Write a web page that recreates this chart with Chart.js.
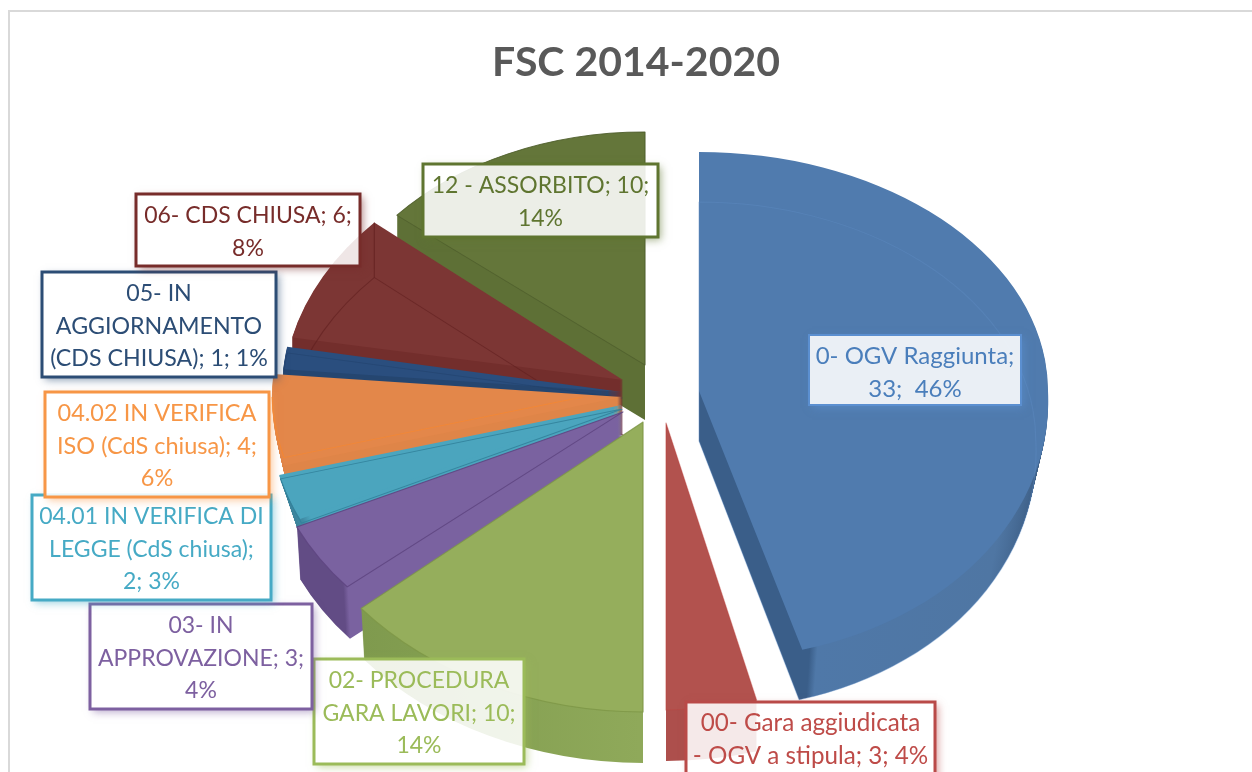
<!DOCTYPE html>
<html>
<head>
<meta charset="utf-8">
<style>html,body{margin:0;padding:0;background:#fff;overflow:hidden}canvas{display:block}</style>
<script src="https://cdn.jsdelivr.net/npm/chart.js@4/dist/chart.umd.min.js"></script>
</head>
<body>
<canvas id="c" width="1252" height="772"></canvas>
<script>
const chartTitle = 'FSC 2014-2020';
const categories = ['0- OGV Raggiunta','00- Gara aggiudicata - OGV a stipula','02- PROCEDURA GARA LAVORI','03- IN APPROVAZIONE','04.01 IN VERIFICA DI LEGGE (CdS chiusa)','04.02 IN VERIFICA ISO (CdS chiusa)','05- IN AGGIORNAMENTO (CDS CHIUSA)','06- CDS CHIUSA','12 - ASSORBITO'];
const values = [33,3,10,3,2,4,1,6,10];
const labelLines = [
  ['0- OGV Raggiunta;','33;  46%'],
  ['00- Gara aggiudicata','- OGV a stipula; 3; 4%'],
  ['02- PROCEDURA','GARA LAVORI; 10;','14%'],
  ['03- IN','APPROVAZIONE; 3;','4%'],
  ['04.01 IN VERIFICA DI','LEGGE (CdS chiusa);','2; 3%'],
  ['04.02 IN VERIFICA','ISO (CdS chiusa); 4;','6%'],
  ['05- IN','AGGIORNAMENTO','(CDS CHIUSA); 1; 1%'],
  ['06- CDS CHIUSA; 6;','8%'],
  ['12 - ASSORBITO; 10;','14%']
];
const labelFontSizes = [24,24.2,23,23,23,23.5,23.2,23,23];
const faceColors = ['#507bae','#b2524e','#95ae5c','#7a62a0','#4ba5be','#e3874a','#2a4e7e','#7c3634','#64763a'];
const textColors = ['#4a7ebb','#be4b48','#9bbb59','#7d60a0','#46aac5','#f79646','#2c4d75','#772c2a','#5f7530'];
const lineColors = ['#5b8fd0','#b94a48','#9bbb59','#7d60a0','#46aac5','#f79646','#2c4d75','#772c2a','#5f7530'];

// how each slice is projected: apex, radii, thickness, taper of the underside, shear of the upper/lower half
const projection = [
  {ax:699,ay:391,rx:349,up:239,down:268,depth:50,taper:0.035,skewUp:0,skewDown:0.05},
  {ax:666,ay:423,rx:350,up:287,down:287,depth:51,taper:0,skewUp:0,skewDown:0},
  {ax:643,ay:422,rx:368,up:285,down:290,depth:51,taper:0.01,skewUp:0,skewDown:0},
  {ax:623,ay:412,rx:360,up:270,down:272,depth:52,taper:0.01,skewUp:0,skewDown:0},
  {ax:622,ay:405,rx:355,up:270,down:270,depth:50,taper:0.05,skewUp:0,skewDown:0},
  {ax:622,ay:397,rx:350,up:265,down:265,depth:45,taper:0.03,skewUp:0,skewDown:0},
  {ax:622,ay:392,rx:340,up:260,down:260,depth:30,taper:0,skewUp:0,skewDown:0},
  {ax:623,ay:380,rx:339,up:245,down:245,depth:55,taper:0,skewUp:-0.07,skewDown:0},
  {ax:645,ay:365,rx:324,up:233,down:233,depth:55,taper:0,skewUp:0,skewDown:0}
];
// wall shading along x: [pageX, colour]
const wallStops = [
  [[700,'#3a5e89'],[797,'#3a5e89'],[805,'#4f78a8'],[990,'#4f76a3'],[1045,'#3c5d84']],
  [[660,'#ad4f4c'],[800,'#ad4f4c']],
  [[360,'#7f9a4e'],[470,'#85a052'],[640,'#8fa95a']],
  [[299,'#624c85'],[343,'#624c85'],[348,'#7a62a0'],[620,'#7a62a0']],
  [[270,'#3a7f96'],[302,'#3f8aa3'],[310,'#4ba5be'],[620,'#4ba5be']],
  [[270,'#df8548'],[620,'#df8548']],
  [[280,'#254670'],[620,'#254670']],
  [[290,'#732e2c'],[620,'#732e2c']],
  [[395,'#5e7036'],[645,'#5e7036']]
];
const ghostEdges = [
  {d:50,color:'rgba(95,140,195,0.4)',lowerOnly:false},
  {d:0,color:'rgba(190,70,65,0.5)',lowerOnly:false},
  {d:0,color:'rgba(125,150,70,0.8)',lowerOnly:false},
  {d:0,color:'rgba(95,70,130,0.9)',lowerOnly:false},
  {d:4,color:'rgba(50,130,155,0.9)',lowerOnly:true},
  {d:-8,color:'rgba(245,135,50,0.85)',lowerOnly:true},
  {d:6,color:'rgba(30,60,100,0.4)',lowerOnly:false},
  {d:55,color:'rgba(95,30,30,0.6)',lowerOnly:false},
  {d:0,color:'rgba(80,95,45,0.9)',lowerOnly:false}
];
const sliceWithWallEdge = 7;
// label boxes: left, top, right, bottom
const labelBoxes = [
  [809,335,1021,405],[686,702,935,790],[314,659,524,764],[90,604,312,709],
  [32,495,271,600],[45,392,269,497],[42,272,276,377],[136,194,360,266],[423,164,658,237]
];
const paintOrder = [8,7,6,5,4,3,2,1,0];
const W = 1252, H = 772;

function plainOptions(bg, border, bw){
  return {backgroundColor:bg,borderColor:border,borderWidth:bw,borderAlign:'center',borderJoinStyle:'round',
          borderDash:[],borderDashOffset:0,offset:0,spacing:0,circular:true,borderRadius:0,selfJoin:false};
}
function paintArc(ctx, el, p, shift, bg, border, bw, lowerOnly){
  const saved = el.options;
  const R = el.outerRadius;
  const f = 1 - p.taper*Math.max(shift,0)/p.depth;
  el.options = plainOptions(bg, border, bw);
  const seam = p.ay + shift;
  const parts = lowerOnly
    ? [[Math.max(seam,p.ay),H+80,p.down,p.skewDown]]
    : [[0,seam,p.up,p.skewUp],[seam,H-seam+80,p.down,p.skewDown]];
  parts.forEach(([top,h,ry,sk])=>{
    ctx.save();
    ctx.beginPath(); ctx.rect(0,top,W,h); ctx.clip();
    ctx.translate(p.ax,seam);
    ctx.transform(1,0,sk,1,0,0);
    ctx.scale(p.rx*f/R, ry/R);
    ctx.translate(-el.x,-el.y);
    el.draw(ctx);
    ctx.restore();
  });
  el.options = saved;
}
function wallFill(ctx, el, p, stops){
  const R = el.outerRadius, toX = X => el.x + (X-p.ax)*R/p.rx;
  const x0 = stops[0][0], x1 = stops[stops.length-1][0];
  const g = ctx.createLinearGradient(toX(x0),0,toX(x1),0);
  stops.forEach(([x,c])=>g.addColorStop((x-x0)/(x1-x0),c));
  return g;
}
function rimPoint(el, p, angle, shift){
  const dy = Math.sin(angle)*(Math.sin(angle)<0?p.up:p.down);
  const sk = dy<0?p.skewUp:p.skewDown;
  return [p.ax + Math.cos(angle)*p.rx + sk*dy, p.ay + shift + dy];
}
const pie3d = {
  id:'pie3d',
  beforeDraw(chart){
    const ctx = chart.ctx;
    ctx.save();
    ctx.fillStyle='#d9d9d9';
    ctx.fillRect(8,10,W-8,2);
    ctx.fillRect(8,10,2,H-10);
    ctx.restore();
  },
  beforeDatasetDraw(chart,args){
    const ctx = chart.ctx, arcs = chart.getDatasetMeta(args.index).data;
    paintOrder.forEach(i=>{
      const el = arcs[i], p = projection[i];
      const wall = wallFill(ctx, el, p, wallStops[i]);
      for(let d=p.depth;d>=1;d--) paintArc(ctx,el,p,d,wall,'rgba(0,0,0,0)',0,false);
      paintArc(ctx,el,p,0,faceColors[i],'rgba(0,0,0,0)',0,false);
      const g = ghostEdges[i];
      paintArc(ctx,el,p,g.d,'rgba(0,0,0,0)',g.color,1.2,g.lowerOnly);
      if(i===sliceWithWallEdge){
        const a = rimPoint(el,p,el.endAngle,0), b = rimPoint(el,p,el.endAngle,p.depth);
        ctx.save();
        ctx.strokeStyle=g.color; ctx.lineWidth=1.2;
        ctx.beginPath(); ctx.moveTo(a[0],a[1]); ctx.lineTo(b[0],b[1]); ctx.stroke();
        ctx.restore();
      }
    });
    return false;
  },
  afterDraw(chart){
    const ctx = chart.ctx;
    labelLines.forEach((lines,i)=>{
      const [l,t,r,b] = labelBoxes[i];
      ctx.save();
      // soft coloured shadow outside the box only
      ctx.save();
      ctx.beginPath(); ctx.rect(0,0,W,H+40); ctx.rect(l,t,r-l,b-t); ctx.clip('evenodd');
      ctx.shadowColor=lineColors[i]; ctx.shadowBlur=8; ctx.shadowOffsetX=3; ctx.shadowOffsetY=3;
      ctx.globalAlpha=0.55;
      ctx.fillStyle='#fff';
      ctx.fillRect(l,t,r-l,b-t);
      ctx.restore();
      ctx.fillStyle='rgba(255,255,255,0.88)';
      ctx.fillRect(l,t,r-l,b-t);
      ctx.strokeStyle=lineColors[i]; ctx.lineWidth = i===0?2:3;
      ctx.strokeRect(l,t,r-l,b-t);
      ctx.fillStyle=textColors[i];
      ctx.font=labelFontSizes[i]+'px Lato';
      ctx.textAlign='center'; ctx.textBaseline='middle';
      const cx=(l+r)/2, lh=32.7, y0=t+21.5;
      lines.forEach((s,k)=>ctx.fillText(s,cx,y0+k*lh));
      ctx.restore();
    });
  }
};
new Chart(document.getElementById('c'),{
  type:'pie',
  data:{labels:categories,datasets:[{data:values,backgroundColor:faceColors,borderWidth:0}]},
  options:{
    responsive:false,animation:false,rotation:0,
    layout:{padding:{left:20,right:0,top:0,bottom:0}},
    plugins:{
      legend:{display:false},tooltip:{enabled:false},
      title:{display:true,text:chartTitle,color:'#595959',font:{family:'Lato',size:41,weight:'bold'},padding:{top:38,bottom:10}}
    }
  },
  plugins:[pie3d]
});
</script>
</body>
</html>
